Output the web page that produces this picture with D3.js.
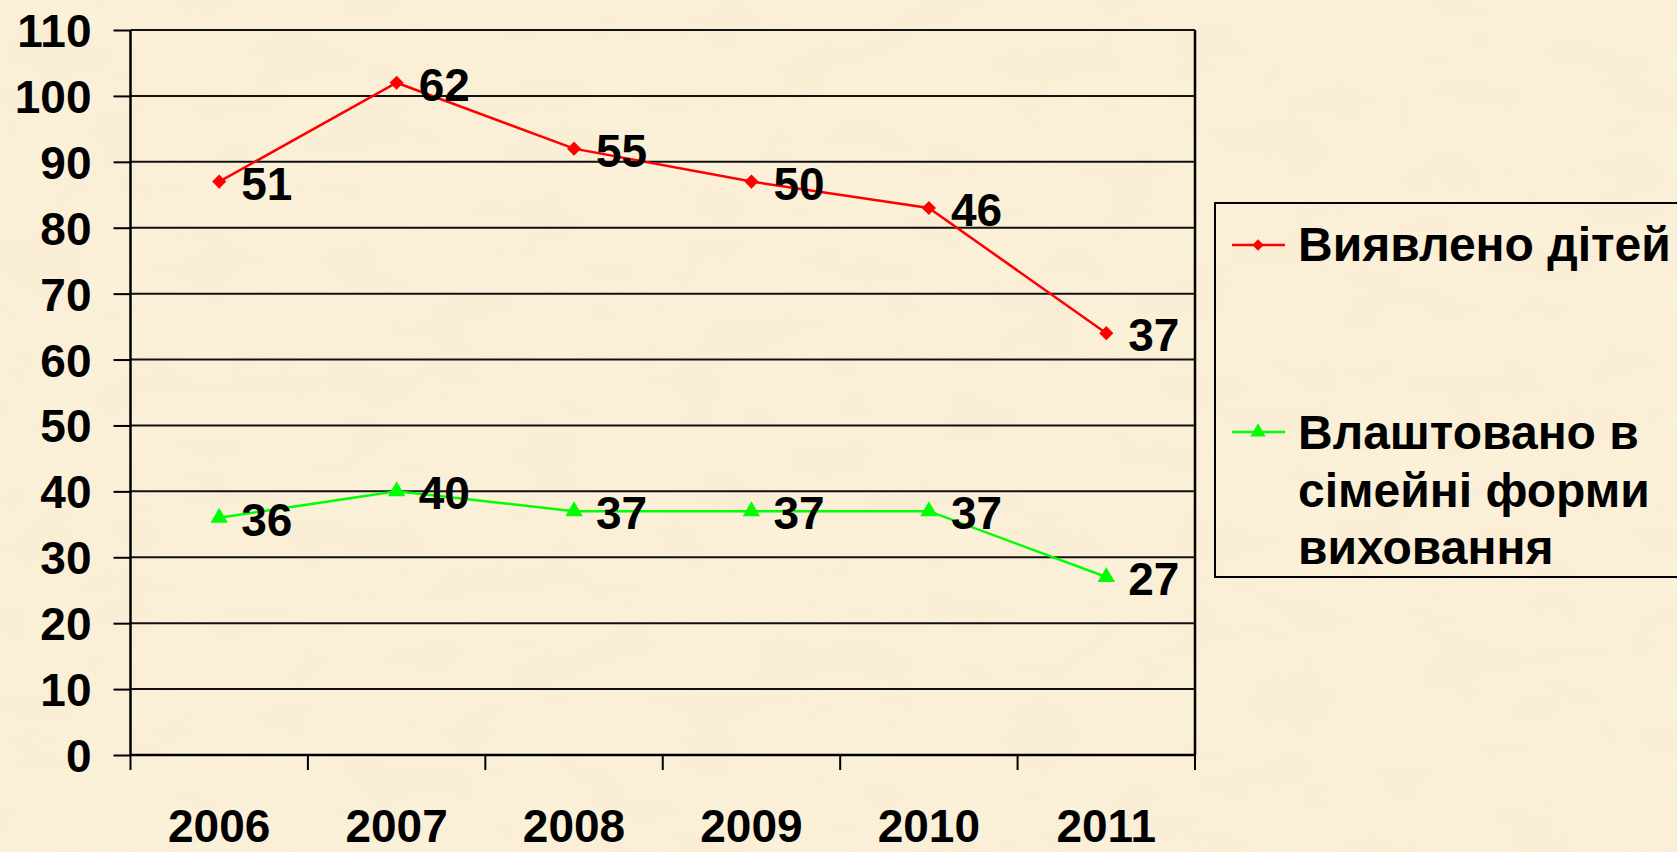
<!DOCTYPE html>
<html>
<head>
<meta charset="utf-8">
<script src="https://cdn.jsdelivr.net/npm/d3@7"></script>
<style>
  html, body { margin: 0; padding: 0; background: #fbf0d8; }
  svg { display: block; font-family: "Liberation Sans", Arial, sans-serif; font-weight: bold; }
</style>
</head>
<body>
<div id="chart"></div>
<script>
const years = ['2006', '2007', '2008', '2009', '2010', '2011'];
const detected = [51, 62, 55, 50, 46, 37];   // Виявлено дітей
const placed = [36, 40, 37, 37, 37, 27];     // Влаштовано в сімейні форми виховання
const yTicks = d3.range(0, 111, 10);

const W = 1677, H = 852;
const margin = { top: 30, right: 482, bottom: 97, left: 130.5 };

const svg = d3.select('#chart').append('svg').attr('width', W).attr('height', H);

// parchment background
const defs = svg.append('defs');
const f = defs.append('filter').attr('id', 'paper').attr('x', 0).attr('y', 0).attr('width', '100%').attr('height', '100%');
f.append('feTurbulence').attr('type', 'fractalNoise').attr('baseFrequency', '0.012 0.025').attr('numOctaves', 4).attr('seed', 3);
f.append('feColorMatrix').attr('type', 'matrix')
  .attr('values', '0 0 0 0 0.88  0 0 0 0 0.76  0 0 0 0 0.56  1.2 0 0 0 -0.45');
svg.append('rect').attr('width', W).attr('height', H).attr('fill', '#fbf0d8');
svg.append('rect').attr('width', W).attr('height', H).attr('filter', 'url(#paper)').attr('opacity', 0.35);

// stacked rows: green is the base, red sits on top of it
const rows = years.map((y, i) => ({ year: y, placed: placed[i], detected: detected[i] }));
const stacked = d3.stack().keys(['placed', 'detected'])(rows);

const x = d3.scaleBand().domain(years).range([margin.left, W - margin.right]);
const y = d3.scaleLinear().domain([0, 110]).range([H - margin.bottom, margin.top]);

const g = svg.append('g');

// gridlines
g.selectAll('.grid').data(yTicks).join('line')
  .attr('x1', margin.left).attr('x2', W - margin.right)
  .attr('y1', d => y(d)).attr('y2', d => y(d))
  .attr('stroke', '#111').attr('stroke-width', 2);

// right border of the plot
g.append('line')
  .attr('x1', W - margin.right).attr('x2', W - margin.right)
  .attr('y1', y(110)).attr('y2', y(0))
  .attr('stroke', '#000').attr('stroke-width', 2.5);

// y axis
const yAxis = g.append('g').attr('transform', `translate(${margin.left},0)`)
  .call(d3.axisLeft(y).tickValues(yTicks).tickSize(17).tickFormat(d3.format('d')));
yAxis.select('.domain').attr('stroke', '#000').attr('stroke-width', 2.5).attr('d', `M0,${y(110)}V${y(0)}`);
yAxis.selectAll('.tick line').attr('stroke', '#000').attr('stroke-width', 2);
yAxis.selectAll('.tick text')
  .attr('x', -39).attr('dy', null).attr('y', 16.5)
  .attr('fill', '#000').attr('font-size', 46).attr('font-family', '"Liberation Sans", Arial, sans-serif').attr('font-weight', 'bold');

// x axis: ticks sit on category boundaries
const bounds = years.map(d => x(d)).concat([W - margin.right]);
const xAxis = g.append('g').attr('transform', `translate(0,${y(0)})`);
xAxis.append('line').attr('x1', margin.left).attr('x2', W - margin.right)
  .attr('stroke', '#000').attr('stroke-width', 2.5);
xAxis.selectAll('.xt').data(bounds).join('line')
  .attr('x1', d => d).attr('x2', d => d).attr('y1', 0).attr('y2', 15)
  .attr('stroke', '#000').attr('stroke-width', 2);
xAxis.selectAll('.xl').data(years).join('text')
  .attr('x', d => x(d) + x.bandwidth() / 2).attr('y', 87)
  .attr('text-anchor', 'middle').attr('font-size', 46).attr('fill', '#000')
  .text(d => d);

const cx = d => x(d.data.year) + x.bandwidth() / 2;
const line = d3.line().x(cx).y(d => y(d[1]));

// diamond = square turned by 45 degrees
const series = [
  { key: 'detected', layer: stacked[1], color: '#ff0000', symbol: d3.symbolSquare, rot: 45, size: 100, label: d => d.data.detected },
  { key: 'placed', layer: stacked[0], color: '#00ff00', symbol: d3.symbolTriangle, rot: 0, size: 130, label: d => d.data.placed }
];

series.forEach(s => {
  g.append('path').datum(s.layer)
    .attr('fill', 'none').attr('stroke', s.color).attr('stroke-width', 2.5)
    .attr('d', line);
  g.selectAll('.m-' + s.key).data(s.layer).join('path')
    .attr('transform', d => `translate(${cx(d)},${y(d[1])}) rotate(${s.rot})`)
    .attr('d', d3.symbol().type(s.symbol).size(s.size))
    .attr('fill', s.color);
  g.selectAll('.l-' + s.key).data(s.layer).join('text')
    .attr('x', d => cx(d) + 22).attr('y', d => y(d[1]) + 18)
    .attr('font-size', 46).attr('fill', '#000')
    .text(s.label);
});

// legend
const legend = svg.append('g');
legend.append('rect')
  .attr('x', 1215).attr('y', 203).attr('width', 600).attr('height', 374)
  .attr('fill', 'none').attr('stroke', '#000').attr('stroke-width', 2);

const legendItems = [
  { color: '#ff0000', symbol: d3.symbolSquare, rot: 45, size: 64, ly: 245, lines: ['Виявлено дітей'], base: 261 },
  { color: '#00ff00', symbol: d3.symbolTriangle, rot: 0, size: 100, ly: 432, lines: ['Влаштовано в', 'сімейні форми', 'виховання'], base: 449 }
];
legendItems.forEach(it => {
  legend.append('line').attr('x1', 1232).attr('x2', 1285).attr('y1', it.ly).attr('y2', it.ly)
    .attr('stroke', it.color).attr('stroke-width', 2.5);
  legend.append('path').attr('transform', `translate(1258,${it.ly}) rotate(${it.rot})`)
    .attr('d', d3.symbol().type(it.symbol).size(it.size)).attr('fill', it.color);
  legend.selectAll(null).data(it.lines).join('text')
    .attr('x', 1298).attr('y', (d, i) => it.base + i * 57.5)
    .attr('font-size', 48).attr('fill', '#000')
    .text(d => d);
});
</script>
</body>
</html>
